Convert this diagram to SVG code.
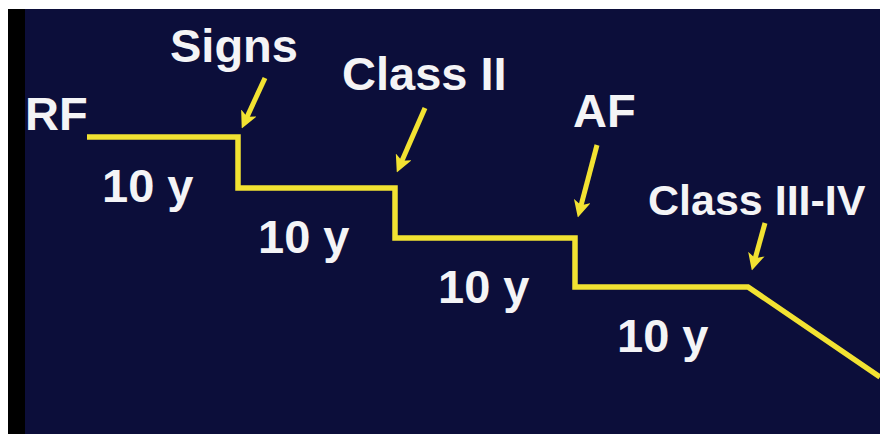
<svg xmlns="http://www.w3.org/2000/svg" width="880" height="435" viewBox="0 0 880 435">
  <style>
    .lbl { font-family: "Liberation Sans", Arial, sans-serif; font-weight: bold; font-size: 47px; fill: #f4f4f6; }
    .step { fill: none; stroke: #f2e232; stroke-width: 5.5; stroke-linejoin: miter; }
    .arr { fill: none; stroke: #f2e232; stroke-width: 5; }
  </style>
  <defs>
    <marker id="ah" viewBox="0 0 16 16" refX="8" refY="8" markerWidth="17" markerHeight="17" markerUnits="userSpaceOnUse" orient="auto">
      <path d="M0,0 L16,8 L0,16 L4,8 z" fill="#f2e232"/>
    </marker>
  </defs>
  <rect x="0" y="0" width="880" height="435" fill="#ffffff"/>
  <rect x="8" y="9" width="872" height="425" fill="#0c0e3a"/>
  <rect x="8" y="9" width="17" height="425" fill="#000000"/>

  <g id="connectors">
    <path class="step" d="M87,137 H238 V188 H395 V238 H575 V287 H748 L880,377"/>
    <line class="arr" x1="265" y1="78" x2="245.3" y2="120.7" marker-end="url(#ah)"/>
    <line class="arr" x1="425" y1="108" x2="400.2" y2="164.7" marker-end="url(#ah)"/>
    <line class="arr" x1="597" y1="145" x2="580" y2="209.3" marker-end="url(#ah)"/>
    <line class="arr" x1="765" y1="223" x2="754.1" y2="262.3" marker-end="url(#ah)"/>
  </g>

  <g id="rf"><text class="lbl" x="25" y="130">RF</text></g>
  <g id="signs"><text class="lbl" x="170" y="62">Signs</text></g>
  <g id="class2"><text class="lbl" x="342" y="90">Class II</text></g>
  <g id="af"><text class="lbl" x="573" y="127">AF</text></g>
  <g id="class34"><text class="lbl" x="648" y="215" style="font-size:43px">Class III-IV</text></g>
  <g id="d1"><text class="lbl" x="102" y="202">10 y</text></g>
  <g id="d2"><text class="lbl" x="258" y="253">10 y</text></g>
  <g id="d3"><text class="lbl" x="438" y="303">10 y</text></g>
  <g id="d4"><text class="lbl" x="617" y="352">10 y</text></g>
</svg>
